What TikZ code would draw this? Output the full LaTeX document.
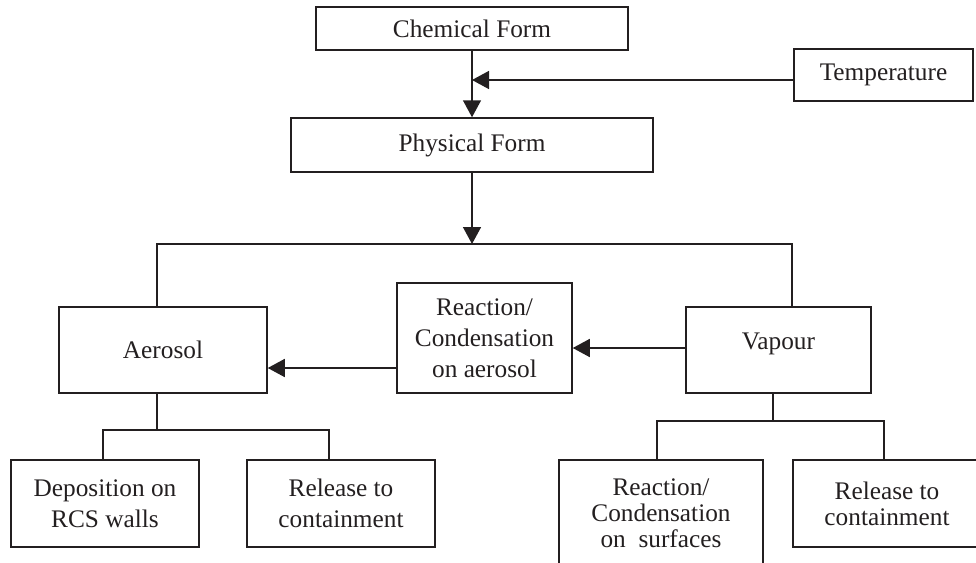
\documentclass[tikz,border=0pt]{standalone}
\usepackage{fontspec}
\setmainfont{Liberation Serif}
\usetikzlibrary{arrows.meta}
\definecolor{ink}{HTML}{231F20}
\tikzset{
  box/.style={draw=ink, line width=1.5pt, text=ink, align=center,
    inner sep=0pt, font=\fontsize{25.3}{31}\selectfont},
  tight/.style={font=\fontsize{25.3}{26}\selectfont},
  wire/.style={draw=ink, line width=1.5pt},
  arr/.style={wire, -{Triangle[length=17pt,width=18pt]}},
}
\begin{document}
\begin{tikzpicture}[x=1pt,y=-1pt]
\useasboundingbox (0,0) rectangle (976,562);

% top chain
\node[box, minimum width=312pt, minimum height=43pt] (chem) at (472,28.5) {Chemical Form};
\node[box, minimum width=179pt, minimum height=52pt] (temp) at (883.5,75) {Temperature};
\node[box, minimum width=362pt, minimum height=54pt] (phys) at (472,145) {Physical Form};

% middle row
\node[box, minimum width=208pt, minimum height=86pt] (aero) at (163,350) {Aerosol};
\node[box, minimum width=175pt, minimum height=110pt] (react) at (484.5,338) {Reaction/\\Condensation\\on aerosol};
\node[box, minimum width=185pt, minimum height=86pt] (vap) at (778.5,350) {\raisebox{18pt}{Vapour}};

% bottom row
\node[box, minimum width=188pt, minimum height=87pt] (dep) at (105,503.5) {Deposition on\\RCS walls};
\node[box, minimum width=188pt, minimum height=87pt] (rel1) at (341,503.5) {Release to\\containment};
\node[box, tight, minimum width=204pt, minimum height=106pt] (surf) at (661,513) {Reaction/\\Condensation\\on\ \ surfaces};
\node[box, tight, minimum width=188pt, minimum height=87pt] (rel2) at (887,503.5) {Release to\\containment};

% chemical form to physical form, temperature feeding in
\draw[arr] (chem.south) -- (phys.north);
\draw[arr] ([yshift=-5pt]temp.west) -- ([yshift=-5pt]temp.west -| chem.south);

% split into aerosol and vapour
\coordinate (bus) at (472,244);
\draw[arr] (phys.south) -- (bus);
\draw[wire] ([xshift=-6pt]aero.north) |- (bus) -| ([xshift=13.5pt]vap.north);

% vapour reacts onto aerosol
\draw[arr] ([yshift=2pt]vap.west) -- ([yshift=2pt]vap.west -| react.east);
\draw[arr] ([yshift=-30pt]react.west) -- ([yshift=-30pt]react.west -| aero.east);

% aerosol fate
\draw[wire] ([xshift=-6pt]aero.south) -- ++(0,36) coordinate (abus);
\draw[wire] ([xshift=-2pt]dep.north) |- (abus) -| ([xshift=-12pt]rel1.north);

% vapour fate
\draw[wire] ([xshift=-5.5pt]vap.south) -- ++(0,27) coordinate (vbus);
\draw[wire] ([xshift=-4pt]surf.north) |- (vbus) -| ([xshift=-3pt]rel2.north);
\end{tikzpicture}
\end{document}
